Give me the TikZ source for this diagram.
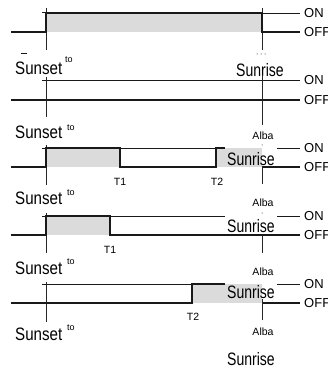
\documentclass[tikz,border=0pt]{standalone}
\usepackage{fontspec}
\setmainfont{Liberation Sans}
\usepackage{graphicx}
\newcommand\wordsunset{\scalebox{0.84}[1]{\fontsize{18}{18}\selectfont Sunset}}
\newcommand\wordsunrise{\scalebox{0.78}[1]{\fontsize{18}{18}\selectfont Sunrise}}
\tikzset{
  sig/.style={line width=1.5pt, black!90, line join=miter},
  refl/.style={line width=0.8pt, black!90},
  vmark/.style={line width=0.8pt, black!85},
  shadebox/.style={fill=black!14, draw=none},
  onoff/.style={anchor=west, inner sep=0pt, font=\fontsize{13}{13}\selectfont},
  small/.style={inner sep=0pt, font=\fontsize{10.5}{10.5}\selectfont},
  word/.style={anchor=base west, inner sep=0pt},
  supto/.style={anchor=west, inner sep=0pt, font=\fontsize{9}{9}\selectfont},
}
\begin{document}
\begin{tikzpicture}[x=1pt,y=-1pt]
\useasboundingbox (0,0) rectangle (328,371);
% ---------- panel 1
\fill[shadebox] (46,13) rectangle (262,32);
\draw[refl] (42,12.5) -- (46,12.5);
\draw[vmark] (46,8) -- (46,50);
\draw[vmark] (262,8) -- (262,50);
\draw[sig] (11,32) -- (46,32) -- (46,13) -- (262,13) -- (262,32) -- (300,32);
\draw[refl] (262,13) -- (300,13);
\node[onoff] (on1) at (304,13) {ON};
\node[onoff] (off1) at (304,32) {OFF};
\draw[refl] (21,53.5) -- (27,53.5);
\fill (257,54) circle (0.5); \fill (261,54) circle (0.5); \fill (265,54) circle (0.5);
\node[word] (ss1) at (15,75) {\wordsunset};
\node[supto] (to1) at (65,60) {to};
\node[word] (sr1) at (236,77) {\wordsunrise};
% ---------- panel 2
\draw[refl] (42,80) -- (300,80);
\draw[sig] (11,100) -- (300,100);
\draw[vmark] (46,77) -- (46,117);
\draw[vmark] (262,75) -- (262,125);
\node[onoff] (on2) at (304,80) {ON};
\node[onoff] (off2) at (304,100) {OFF};
\node[word] (ss2) at (15,139) {\wordsunset};
\node[supto] (to2) at (67,128) {to};
\node[small] (al2) at (263,136) {Alba};
% ---------- panel 3
\fill[shadebox] (46,148) rectangle (120,167);
\fill[shadebox] (216,148) rectangle (262,167);
\draw[refl] (42,148) -- (216,148);
\draw[vmark] (46,145) -- (46,185);
\draw[sig] (11,167) -- (46,167) -- (46,148) -- (120,148) -- (120,167) -- (216,167) -- (216,148) -- (225,148);
\draw[refl] (277,148) -- (300,148);
\draw[sig] (262,167) -- (300,167);
\draw[vmark] (262,167) -- (262,184);
\fill (262,145) circle (0.5);
\node[onoff] (on3) at (304,148) {ON};
\node[onoff] (off3) at (304,167) {OFF};
\node[small] (t13) at (120,182) {T1};
\node[small] (t23) at (217,182) {T2};
\node[word] (sr3) at (227,166) {\wordsunrise};
\node[small] (al3) at (263,203) {Alba};
\node[word] (ss3) at (15,204) {\wordsunset};
\node[supto] (to3) at (67,193) {to};
% ---------- panel 4
\fill[shadebox] (46,216) rectangle (110,235);
\draw[refl] (42,216) -- (225,216);
\draw[vmark] (46,213) -- (46,253);
\draw[sig] (11,235) -- (46,235) -- (46,216) -- (110,216) -- (110,235) -- (300,235);
\draw[refl] (277,216) -- (300,216);
\draw[vmark] (262,235) -- (262,253);
\fill (262,213) circle (0.5);
\node[onoff] (on4) at (304,216) {ON};
\node[onoff] (off4) at (304,235) {OFF};
\node[small] (t14) at (110,250) {T1};
\node[word] (sr4) at (227,232) {\wordsunrise};
\node[small] (al4) at (263,272) {Alba};
\node[word] (ss4) at (15,274) {\wordsunset};
\node[supto] (to4) at (67,262) {to};
% ---------- panel 5
\fill[shadebox] (192,284) rectangle (262,303);
\draw[refl] (42,284) -- (192,284);
\draw[vmark] (46,282) -- (46,322);
\draw[sig] (11,303) -- (192,303) -- (192,284) -- (225,284);
\draw[sig] (262,303) -- (300,303);
\draw[vmark] (262,299) -- (262,320);
\draw[refl] (277,284) -- (300,284);
\node[onoff] (on5) at (304,284) {ON};
\node[onoff] (off5) at (304,303) {OFF};
\node[small] (t25) at (193,317) {T2};
\node[word] (sr5) at (227,298) {\wordsunrise};
\node[small] (al5) at (263,332) {Alba};
\node[word] (ss5) at (15,340) {\wordsunset};
\node[supto] (to5) at (67,328) {to};
\node[word] (sr6) at (227,365) {\wordsunrise};
\end{tikzpicture}
\end{document}
